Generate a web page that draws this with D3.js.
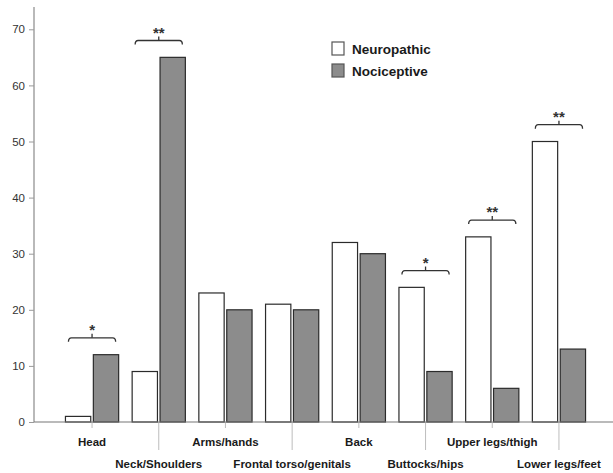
<!DOCTYPE html>
<html>
<head>
<meta charset="utf-8">
<script src="https://cdn.jsdelivr.net/npm/d3@7"></script>
<style>
  body { margin: 0; background: #fff; }
  svg { display: block; }
</style>
</head>
<body>
<div id="chart"></div>
<script>
// pain location, % of patients per group
const categories = ["Head", "Neck/Shoulders", "Arms/hands", "Frontal torso/genitals",
                    "Back", "Buttocks/hips", "Upper legs/thigh", "Lower legs/feet"];
const neuropathic = [1, 9, 23, 21, 32, 24, 33, 50];
const nociceptive = [12, 65, 20, 20, 30, 9, 6, 13];
const significance = ["*", "**", "", "", "", "*", "**", "**"];
const yTicks = [0, 10, 20, 30, 40, 50, 60, 70];
const seriesNames = ["Neuropathic", "Nociceptive"];

const width = 613, height = 473;
const fills = ["#ffffff", "#8c8c8c"];

const svg = d3.select("#chart").append("svg")
  .attr("width", width)
  .attr("height", height);

const y = d3.scaleLinear().domain([0, 70]).range([422, 29.3]);
const x = d3.scaleBand().domain(categories).range([58.7, 592.3]).padding(0);

// y axis
svg.append("line")
  .attr("x1", 34).attr("x2", 34)
  .attr("y1", 7).attr("y2", y(0))
  .attr("stroke", "#8a8a8a").attr("stroke-width", 1.2);

const yAxis = d3.axisLeft(y).tickValues(yTicks).tickSize(5).tickPadding(4);
const gy = svg.append("g").attr("transform", "translate(34,0)").call(yAxis);
gy.select(".domain").remove();
gy.selectAll(".tick line").attr("stroke", "#9a9a9a");
gy.selectAll(".tick text")
  .attr("fill", "#333")
  .style("font-family", "'Liberation Sans', Arial, sans-serif")
  .style("font-size", "11.5px");

// category ticks + labels (alternating rows)
const cat = svg.append("g").selectAll("g").data(categories).enter().append("g")
  .attr("transform", d => `translate(${x(d) + x.bandwidth() / 2},0)`);

cat.append("line")
  .attr("y1", y(0))
  .attr("y2", (d, i) => i % 2 === 0 ? 428 : 450)
  .attr("stroke", "#bdbdbd").attr("stroke-width", 1);

cat.append("text")
  .attr("y", (d, i) => i % 2 === 0 ? 445.5 : 468)
  .attr("text-anchor", "middle")
  .attr("fill", "#1a1a1a")
  .style("font-family", "'Liberation Sans', Arial, sans-serif")
  .style("font-weight", "bold")
  .style("font-size", "11.5px")
  .text(d => d);

// bars
const barW = 25.3, gap = 1.3;
const groups = svg.append("g").selectAll("g").data(categories).enter().append("g")
  .attr("transform", d => `translate(${x(d) + x.bandwidth() / 2},0)`);

groups.append("rect")
  .attr("x", -barW - gap)
  .attr("y", (d, i) => y(neuropathic[i]))
  .attr("width", barW)
  .attr("height", (d, i) => y(0) - y(neuropathic[i]))
  .attr("fill", fills[0]).attr("stroke", "#2b2b2b").attr("stroke-width", 1.2);

groups.append("rect")
  .attr("x", gap)
  .attr("y", (d, i) => y(nociceptive[i]))
  .attr("width", barW)
  .attr("height", (d, i) => y(0) - y(nociceptive[i]))
  .attr("fill", fills[1]).attr("stroke", "#2b2b2b").attr("stroke-width", 1.2);

// x baseline
svg.append("line")
  .attr("x1", 34).attr("x2", width)
  .attr("y1", y(0)).attr("y2", y(0))
  .attr("stroke", "#777").attr("stroke-width", 1.2);

// significance brackets
const sig = groups.filter((d, i) => significance[i] !== "");
sig.each(function(d) {
  const i = categories.indexOf(d);
  const top = Math.max(neuropathic[i], nociceptive[i]);
  const by = y(top + 3);
  const x0 = -barW - gap + 3, x1 = barW + gap - 3;
  const g = d3.select(this);
  g.append("path")
    .attr("d", `M${x0},${by + 4} Q${x0},${by} ${x0 + 3},${by} L${x1 - 3},${by} Q${x1},${by} ${x1},${by + 4}`)
    .attr("fill", "none").attr("stroke", "#333").attr("stroke-width", 1.3);
  g.append("line")
    .attr("x1", 0).attr("x2", 0)
    .attr("y1", by).attr("y2", by - 4)
    .attr("stroke", "#333").attr("stroke-width", 1.3);
  g.append("text")
    .attr("y", by - 3)
    .attr("text-anchor", "middle")
    .attr("fill", "#333")
    .style("font-family", "'Liberation Sans', Arial, sans-serif")
    .style("font-weight", "bold")
    .style("font-size", "15px")
    .text(significance[i]);
});

// legend
const legend = svg.append("g").attr("transform", "translate(332,42)");
const li = legend.selectAll("g").data(seriesNames).enter().append("g")
  .attr("transform", (d, i) => `translate(0,${i * 22})`);
li.append("rect")
  .attr("width", 12).attr("height", 13)
  .attr("fill", (d, i) => fills[i])
  .attr("stroke", "#555").attr("stroke-width", 1.2);
li.append("text")
  .attr("x", 20).attr("y", 11.5)
  .attr("fill", "#1a1a1a")
  .style("font-family", "'Liberation Sans', Arial, sans-serif")
  .style("font-weight", "bold")
  .style("font-size", "13.5px")
  .text(d => d);
</script>
</body>
</html>
